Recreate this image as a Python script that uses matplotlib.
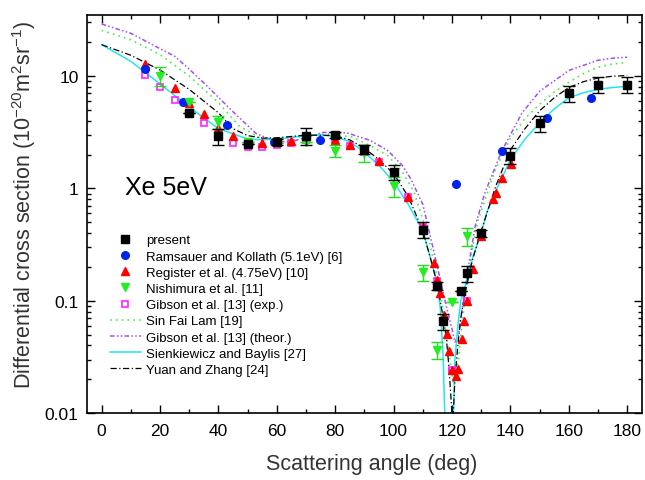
import matplotlib
matplotlib.use("Agg")
import matplotlib.pyplot as plt
from matplotlib.lines import Line2D
from matplotlib.ticker import MultipleLocator, LogLocator, NullFormatter, FixedLocator, FixedFormatter

plt.rcParams["font.family"] = ["Liberation Sans", "DejaVu Sans"]
plt.rcParams["mathtext.default"] = "regular"

# present (black squares with error bars)
present_ang = [30, 40, 50, 60, 70, 80, 90, 100, 110, 115, 117, 123, 125, 130, 140, 150, 160, 170, 180]
present_dcs = [4.7, 2.9, 2.46, 2.6, 2.95, 3.0, 2.22, 1.41, 0.43, 0.136, 0.066, 0.122, 0.175, 0.40, 1.96, 3.8, 7.0, 8.4, 8.4]
present_err = [0.0, 0.45, 0.0, 0.15, 0.5, 0.2, 0.2, 0.22, 0.07, 0.012, 0.011, 0.0, 0.028, 0.03, 0.31, 0.6, 1.1, 1.3, 1.3]

# Ramsauer and Kollath (5.1eV)
rk_ang = [15, 28, 43, 59, 74.7, 121.3, 137, 152.7, 167.7]
rk_dcs = [11.6, 5.9, 3.7, 2.6, 2.72, 1.1, 2.14, 4.2, 6.35]

# Register et al. (4.75eV)
reg_ang = [15, 25, 30, 35, 40, 45, 55, 65, 80, 85, 90, 95, 105, 110, 114, 115, 116, 117.4, 118.2,
           119.1, 120.1, 121.3, 122.2, 123.3, 124.2, 125.1, 127.1, 130, 134.2, 135.2, 137.2, 140.3]
reg_dcs = [12.9, 7.9, 5.8, 4.6, 3.44, 2.9, 2.52, 2.65, 2.72, 2.44, 2.2, 1.77, 0.835, 0.45, 0.216, 0.154,
           0.117, 0.0746, 0.051, 0.0354, 0.024, 0.0215, 0.0245, 0.0456, 0.0655, 0.1, 0.19, 0.38, 0.81,
           0.91, 1.24, 1.65]

# Nishimura et al.
nis_ang = [20, 30, 40, 50, 60, 70, 80, 90, 100, 110, 115, 120, 125]
nis_dcs = [10.1, 5.85, 3.9, 2.6, 2.55, 2.6, 2.17, 2.07, 1.05, 0.18, 0.0366, 0.098, 0.375]
nis_err = [1.9, 0.0, 0.5, 0.0, 0.0, 0.0, 0.28, 0.35, 0.22, 0.03, 0.006, 0.0, 0.065]

# Gibson et al. (exp.)
gib_ang = [15, 20, 25, 35, 45, 50, 55, 60, 65, 70, 80, 85, 90, 95, 100, 105, 110, 115, 120, 125, 130]
gib_dcs = [10.3, 8.0, 6.15, 3.8, 2.54, 2.33, 2.33, 2.44, 2.54, 2.72, 2.67, 2.4, 2.1, 1.71, 1.35,
           0.84, 0.45, 0.15, 0.024, 0.1, 0.40]

# Sin Fai Lam (theory)
sfl_ang = [0, 10, 20, 30, 40, 47, 55, 60, 67, 77, 86, 92, 98, 103, 107, 112, 116, 118, 119.3, 120.5,
           122.2, 124, 126.3, 129, 135, 140, 145, 150, 155, 160, 165, 170, 175, 180]
sfl_dcs = [25.5, 21.0, 15.5, 10.0, 5.8, 3.6, 2.75, 2.75, 2.86, 3.06, 2.86, 2.4, 1.96, 1.4, 0.93, 0.36,
           0.12, 0.052, 0.030, 0.018, 0.03, 0.084, 0.235, 0.53, 1.5, 2.8, 4.2, 5.6, 7.2, 8.8, 10.5,
           12.0, 12.8, 13.2]

# Gibson et al. (theory)
gth_ang = [0, 10, 20, 25, 30, 36, 45, 53, 60, 65, 70, 76, 84, 92, 98, 103, 106, 110, 114, 117.6, 120,
           121, 122.2, 123.3, 125.6, 128, 131.3, 137, 144, 150, 160, 170, 175, 180]
gth_dcs = [29.0, 24.0, 17.5, 15.0, 11.5, 8.2, 4.8, 3.06, 2.6, 2.6, 2.85, 3.15, 3.12, 2.67, 2.17, 1.6,
           1.2, 0.72, 0.26, 0.10, 0.056, 0.043, 0.049, 0.079, 0.2, 0.47, 0.92, 2.14, 4.7, 7.3, 11.2,
           13.8, 14.4, 14.7]

# Sienkiewicz and Baylis
sb_ang = [0, 10, 20, 30, 40, 50, 55, 60, 70, 75, 80, 85, 90, 95, 100, 105, 110, 113, 115, 116, 117,
          117.6, 120.4, 121, 122, 123, 125, 127, 130, 132, 135, 140, 145, 150, 155, 160, 165, 170, 175, 180]
sb_dcs = [19.0, 13.5, 8.5, 5.3, 3.4, 2.75, 2.7, 2.75, 2.95, 3.0, 2.9, 2.6, 2.1, 1.6, 1.15, 0.72, 0.42,
          0.22, 0.14, 0.085, 0.03, 0.008, 0.008, 0.03, 0.06, 0.1, 0.15, 0.24, 0.40, 0.62, 0.95, 1.8,
          2.75, 3.8, 5.1, 6.4, 7.1, 7.6, 7.9, 8.1]

# Yuan and Zhang
yz_ang = [0, 10, 20, 30, 40, 45, 50, 55, 60, 70, 80, 85, 90, 95, 100, 105, 110, 113, 115, 117, 118,
          119, 120.2, 120.6, 121, 122, 123, 124.5, 127, 130, 135, 140, 145, 150, 155, 160, 165, 170, 175, 180]
yz_dcs = [19.0, 15.3, 11.3, 7.6, 4.7, 3.4, 2.95, 2.8, 2.82, 2.98, 2.95, 2.7, 2.28, 1.8, 1.35, 0.85,
          0.42, 0.22, 0.14, 0.07, 0.048, 0.025, 0.008, 0.012, 0.02, 0.04, 0.07, 0.12, 0.23, 0.42, 1.05,
          2.2, 3.4, 4.9, 6.4, 7.9, 8.9, 9.6, 9.95, 10.1]

fig = plt.figure(figsize=(6.45, 4.81), dpi=100)
ax = fig.add_axes([0.135, 0.139, 0.86, 0.828])

# theory curves
l1, = ax.plot(sfl_ang, sfl_dcs, color="#44ee44", lw=1.2, ls=(0, (1, 2.5)))
l2, = ax.plot(gth_ang, gth_dcs, color="#a050ee", lw=1.1, ls=(0, (3, 1.5, 1, 1.5, 1, 1.5)))
l3, = ax.plot(sb_ang, sb_dcs, color="#22e5f0", lw=1.1, ls="-")
l4, = ax.plot(yz_ang, yz_dcs, color="black", lw=0.9, ls=(0, (5, 2, 1, 2)))

# experiments
m5 = ax.plot(gib_ang, gib_dcs, ls="none", marker="s", ms=5, mfc="none", mec="#ff22ff", mew=1.2, zorder=4)[0]
m3 = ax.plot(reg_ang, reg_dcs, ls="none", marker="^", ms=6, color="#ff0000", zorder=5)[0]
ax.errorbar(nis_ang, nis_dcs, yerr=nis_err, fmt="v", ms=6, color="#22ee22", ecolor="#22dd22",
            capsize=4, elinewidth=1, zorder=6)
m2 = ax.plot(rk_ang, rk_dcs, ls="none", marker="o", ms=5.5, color="#0022ee", zorder=6)[0]
ax.errorbar(present_ang, present_dcs, yerr=present_err, fmt="s", ms=6, color="black",
            capsize=4, elinewidth=1, zorder=7)

# legend proxies without error bars
m1 = Line2D([], [], ls="none", marker="s", ms=6, color="black")
m4 = Line2D([], [], ls="none", marker="v", ms=6, color="#22ee22")

ax.set_yscale("log")
ax.set_xlim(-5, 185)
ax.set_ylim(0.01, 35)
ax.xaxis.set_major_locator(MultipleLocator(20))
ax.xaxis.set_minor_locator(MultipleLocator(10))
ax.yaxis.set_major_locator(FixedLocator([0.01, 0.1, 1, 10]))
ax.yaxis.set_major_formatter(FixedFormatter(["0.01", "0.1", "1", "10"]))
ax.yaxis.set_minor_locator(LogLocator(base=10, subs=range(2, 10)))
ax.yaxis.set_minor_formatter(NullFormatter())
ax.tick_params(which="both", direction="in", top=True, right=True, labelsize=12.5, width=1)
ax.tick_params(which="major", length=6)
ax.tick_params(which="minor", length=3)
ax.tick_params(axis="x", which="major", pad=7)
ax.tick_params(axis="y", which="major", pad=6)
for s in ax.spines.values():
    s.set_linewidth(1.2)

ax.set_xlabel("Scattering angle (deg)", fontsize=15.5, color="#333333")
ax.set_ylabel("Differential cross section (10$^{-20}$m$^{2}$sr$^{-1}$)", fontsize=15.5, color="#333333")
ax.xaxis.set_label_coords(0.513, -0.1)
ax.yaxis.set_label_coords(-0.088, 0.525)
ax.text(8, 0.89, "Xe 5eV", fontsize=18)

ax.legend([m1, m2, m3, m4, m5, l1, l2, l3, l4],
          ["present", "Ramsauer and Kollath (5.1eV) [6]", "Register et al. (4.75eV) [10]",
           "Nishimura et al. [11]", "Gibson et al. [13] (exp.)", "Sin Fai Lam [19]",
           "Gibson et al. [13] (theor.)", "Sienkiewicz and Baylis [27]", "Yuan and Zhang [24]"],
          loc="lower left", bbox_to_anchor=(0.025, 0.07), frameon=False, fontsize=9.5,
          handlelength=2.3, labelspacing=0.3, handletextpad=0.4, borderaxespad=0.3)

fig.savefig("out.png", dpi=100)
